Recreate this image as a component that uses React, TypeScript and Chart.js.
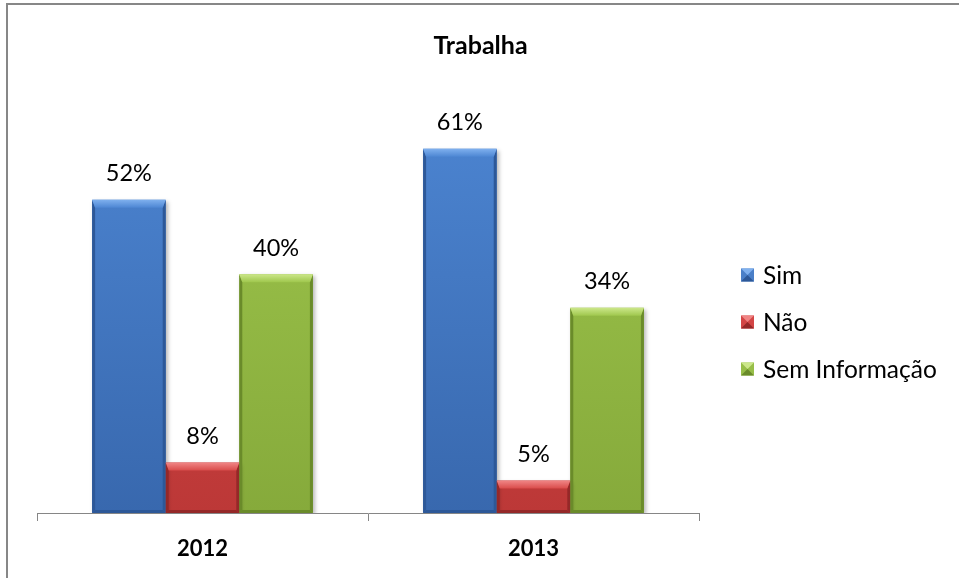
import React, { useEffect, useRef } from "react";
import { Chart, registerables } from "chart.js";

Chart.register(...registerables);

const categories = ["2012", "2013"];
const seriesLabels = ["Sim", "Não", "Sem Informação"];
const simValues = [52.2, 60.7];
const naoValues = [8.4, 5.4];
const semInfoValues = [39.8, 34.2];
const chartTitle = "Trabalha";
const yMax = 70;

const FONT = "Lato, 'Open Sans', sans-serif";

type Palette = { top: string; bottom: string; light: string; dark: string; base: string };
const palettes: Palette[] = [
  { base: "#4A7FC8", top: "#4D86D3", bottom: "#3868AE", light: "#7FB0EE", dark: "#2D5898" },
  { base: "#D34545", top: "#D94B4A", bottom: "#BC3837", light: "#F08585", dark: "#952828" },
  { base: "#97BE48", top: "#9FC74D", bottom: "#86AA3B", light: "#CCE78A", dark: "#6A8B2A" },
];

function poly(ctx: CanvasRenderingContext2D, pts: number[][], fill: string | CanvasGradient) {
  ctx.beginPath();
  ctx.moveTo(pts[0][0], pts[0][1]);
  for (let i = 1; i < pts.length; i++) ctx.lineTo(pts[i][0], pts[i][1]);
  ctx.closePath();
  ctx.fillStyle = fill;
  ctx.fill();
}

const decorPlugin = {
  id: "decor",
  beforeDraw(chart: any) {
    const ctx = chart.ctx as CanvasRenderingContext2D;
    ctx.save();
    ctx.fillStyle = "#ffffff";
    ctx.fillRect(0, 0, chart.width, chart.height);
    ctx.fillStyle = "#878787";
    ctx.fillRect(6, 3, chart.width - 6, 2);
    ctx.fillRect(6, 3, 2, chart.height - 3);
    ctx.fillStyle = "#000";
    ctx.font = `bold 25px ${FONT}`;
    ctx.textAlign = "center";
    ctx.textBaseline = "middle";
    ctx.fillText(chartTitle, chart.width / 2 + 1, 46);
    ctx.restore();
  },
  beforeDatasetsDraw(chart: any) {
    const ctx = chart.ctx as CanvasRenderingContext2D;
    ctx.save();
    ctx.shadowColor = "rgba(0,0,0,0.28)";
    ctx.shadowBlur = 4;
    ctx.shadowOffsetX = 2;
    ctx.shadowOffsetY = 2;
  },
  afterDatasetsDraw(chart: any) {
    const ctx = chart.ctx as CanvasRenderingContext2D;
    ctx.restore();
    ctx.save();
    chart.data.datasets.forEach((ds: any, i: number) => {
      const meta = chart.getDatasetMeta(i);
      const p = palettes[i];
      meta.data.forEach((bar: any) => {
        const { x, y, base, width } = bar.getProps(["x", "y", "base", "width"], true);
        const L = x - width / 2;
        const R = x + width / 2;
        const T = y;
        const B = base;
        const b = Math.min(8, (B - T) / 2);
        const s = 3;
        const g = ctx.createLinearGradient(0, T, 0, T + b);
        g.addColorStop(0, p.light);
        g.addColorStop(1, p.top);
        poly(ctx, [[L, B], [L + s, B - s], [L + s, T + b], [L, T]], p.dark);
        poly(ctx, [[R, B], [R - s, B - s], [R - s, T + b], [R, T]], p.dark);
        poly(ctx, [[L, B], [R, B], [R - s, B - s], [L + s, B - s]], p.dark);
        poly(ctx, [[L, T], [R, T], [R - s, T + b], [L + s, T + b]], g);
      });
    });
    ctx.fillStyle = "#000";
    ctx.font = `23.5px ${FONT}`;
    ctx.textAlign = "center";
    ctx.textBaseline = "middle";
    chart.data.datasets.forEach((ds: any, i: number) => {
      const meta = chart.getDatasetMeta(i);
      meta.data.forEach((bar: any, j: number) => {
        ctx.fillText(Math.round(ds.data[j]) + "%", bar.x, bar.y - 26);
      });
    });
    const area = chart.chartArea;
    const lx = area.right + 42;
    const ly0 = area.top + 182;
    ctx.font = `24.5px ${FONT}`;
    ctx.textAlign = "left";
    seriesLabels.forEach((label, i) => {
      const p = palettes[i];
      const cy = ly0 + i * 47;
      const sz = 13;
      const sx = lx;
      const sy = cy - sz / 2;
      ctx.fillStyle = p.base;
      ctx.fillRect(sx, sy, sz, sz);
      poly(ctx, [[sx, sy], [sx + sz, sy], [sx + sz / 2, sy + sz / 2]], p.light);
      poly(ctx, [[sx, sy + sz], [sx + sz, sy + sz], [sx + sz / 2, sy + sz / 2]], p.dark);
      ctx.fillStyle = "#000";
      ctx.fillText(label, lx + 22, cy + 1);
    });
    ctx.restore();
  },
};

function makeFill(i: number) {
  return (c: any) => {
    const chart = c.chart;
    const area = chart.chartArea;
    if (!area) return palettes[i].base;
    const g = chart.ctx.createLinearGradient(0, area.top, 0, area.bottom);
    g.addColorStop(0, palettes[i].top);
    g.addColorStop(1, palettes[i].bottom);
    return g;
  };
}

export default function App() {
  const ref = useRef<HTMLCanvasElement | null>(null);
  useEffect(() => {
    if (!ref.current) return;
    const series = [simValues, naoValues, semInfoValues];
    const chart = new Chart(ref.current, {
      type: "bar",
      data: {
        labels: categories,
        datasets: series.map((vals, i) => ({
          label: seriesLabels[i],
          data: vals,
          backgroundColor: makeFill(i),
          borderWidth: 0,
          categoryPercentage: 0.667,
          barPercentage: 1,
        })),
      },
      options: {
        animation: false,
        responsive: false,
        devicePixelRatio: 1,
        layout: { padding: { left: 37, right: 260, top: 93, bottom: 0 } },
        plugins: {
          legend: { display: false },
          title: { display: false },
          tooltip: { enabled: false },
        },
        scales: {
          x: {
            grid: {
              display: true,
              drawOnChartArea: false,
              drawTicks: true,
              tickLength: 8,
              color: "#868686",
              offset: true,
            },
            border: { display: true, color: "#868686", width: 1 },
            ticks: {
              color: "#000",
              font: { family: FONT, size: 22, weight: "bold" },
              padding: 15,
            },
            afterFit: (scale: any) => {
              scale.height = 65;
            },
          },
          y: {
            display: false,
            min: 0,
            max: yMax,
          },
        },
      },
      plugins: [decorPlugin],
    });
    return () => chart.destroy();
  }, []);
  return (
    <div style={{ position: "absolute", left: 0, top: 0, width: 959, height: 578, overflow: "hidden" }}>
      <canvas ref={ref} width={959} height={578} style={{ display: "block" }} />
    </div>
  );
}
